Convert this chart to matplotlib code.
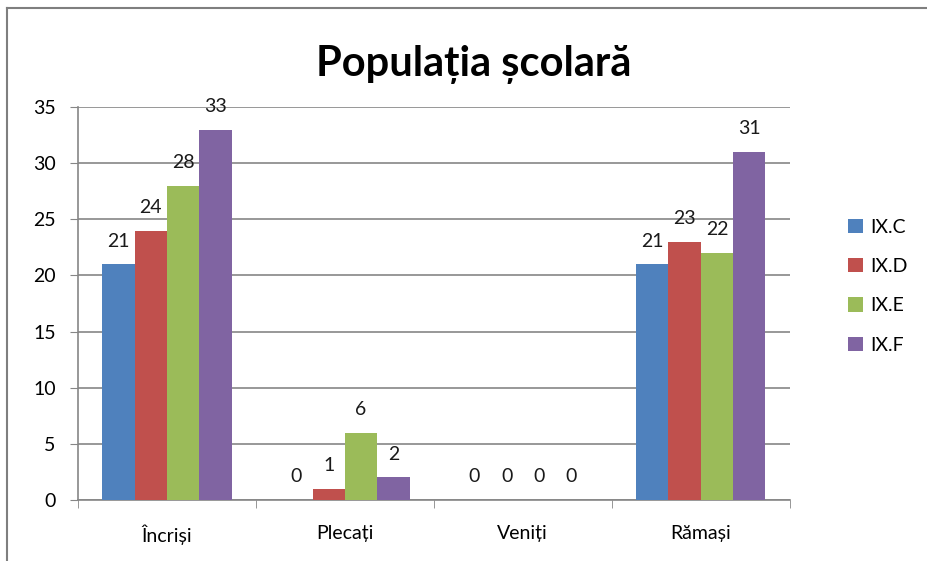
import matplotlib.pyplot as plt
import numpy as np
from matplotlib.lines import Line2D

categories = ['Încriși', 'Plecați', 'Veniți', 'Rămași']
series = ['IX.C', 'IX.D', 'IX.E', 'IX.F']
ix_c = [21, 0, 0, 21]
ix_d = [24, 1, 0, 23]
ix_e = [28, 6, 0, 22]
ix_f = [33, 2, 0, 31]
colors = ['#4f81bd', '#c0504d', '#9bbb59', '#8064a2']

plt.rcParams['font.family'] = ['Lato', 'DejaVu Sans']

fig = plt.figure(figsize=(9.28, 5.61), dpi=100)
ax = fig.add_axes([0.084, 0.109, 0.767, 0.700])

X = np.arange(len(categories))
width = 0.727 / 4
for i, (vals, name, col) in enumerate(zip([ix_c, ix_d, ix_e, ix_f], series, colors)):
    pos = X - 0.727 / 2 + width * (i + 0.5)
    bars = ax.bar(pos, vals, width, color=col, label=name, zorder=3)
    for x, v in zip(pos, vals):
        ax.text(x, v + 1.3, str(v), ha='center', va='bottom', fontsize=14, color='#1a1a1a')

ax.set_xlim(-0.5, 3.5)
ax.set_ylim(0, 35)
ax.set_yticks(range(0, 36, 5))
ax.set_xticks(X)
ax.set_xticklabels(categories, fontsize=14)
ax.set_xticks(np.arange(-0.5, 4, 1), minor=True)
ax.tick_params(axis='x', which='major', length=0, pad=18)
ax.tick_params(axis='x', which='minor', length=6, color='#868686', direction='out')
ax.tick_params(axis='y', labelsize=14, length=6, color='#868686', pad=10)
ax.yaxis.grid(True, color='#868686', linewidth=1.2, zorder=0)
for s in ['top', 'right']:
    ax.spines[s].set_visible(False)
ax.spines['left'].set_color('#868686')
ax.spines['bottom'].set_color('#868686')
ax.spines['left'].set_linewidth(1.2)
ax.spines['bottom'].set_linewidth(1.2)

fig.text(0.51, 0.885, 'Populația școlară', ha='center', va='center', fontsize=30, fontweight='bold')

handles, labels = ax.get_legend_handles_labels()
fig.legend(handles, labels, loc='center left', bbox_to_anchor=(0.895, 0.49), frameon=False,
           fontsize=14, handlelength=0.75, handleheight=0.75, labelspacing=1.15, handletextpad=0.4)

fig.add_artist(Line2D([0.0075, 0.0075], [0.0, 0.986], color='#7f7f7f', linewidth=1.5, transform=fig.transFigure))
fig.add_artist(Line2D([0.0075, 1.0], [0.986, 0.986], color='#7f7f7f', linewidth=1.5, transform=fig.transFigure))

plt.savefig('out.png')
plt.close()
